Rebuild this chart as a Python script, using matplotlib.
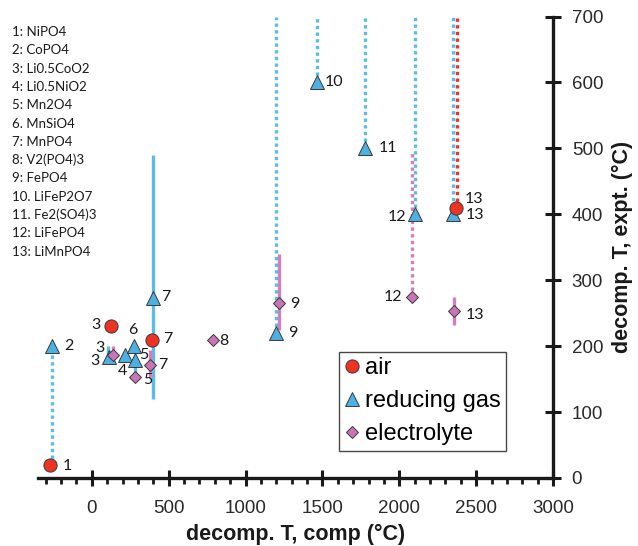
import matplotlib
matplotlib.use('Agg')
import matplotlib.pyplot as plt
from matplotlib.ticker import MultipleLocator
from matplotlib.lines import Line2D

# ---------------- data ----------------
compounds = ["1: NiPO4", "2: CoPO4", "3: Li0.5CoO2", "4: Li0.5NiO2", "5: Mn2O4",
             "6. MnSiO4", "7: MnPO4", "8: V2(PO4)3", "9: FePO4", "10. LiFeP2O7",
             "11. Fe2(SO4)3", "12: LiFePO4", "13: LiMnPO4"]

air_x = [-270, 122, 390, 2372]
air_y = [20, 230, 210, 410]
air_ids = ["1", "3", "7", "13"]

gas_x = [-262, 112, 215, 282, 272, 398, 1200, 1466, 1780, 2102, 2348]
gas_y = [200, 183, 187, 179, 200, 273, 220, 600, 500, 400, 400]
gas_ids = ["2", "3", "4", "5", "6", "7", "9", "10", "11", "12", "13"]

elec_x = [135, 284, 378, 790, 1220, 2081, 2357]
elec_y = [186, 153, 172, 210, 265, 275, 253]
elec_ids = ["3", "5", "7", "8", "9", "12", "13"]

# vertical ranges: x, low, high, kind ("range" = solid, "bound" = dotted)
air_bar_x = [2378]
air_bar_lo = [410]
air_bar_hi = [700]
air_bar_kind = ["bound"]

gas_bar_x = [-262, 108, 282, 398, 1200, 1466, 1780, 2102, 2348]
gas_bar_lo = [20, 175, 155, 120, 220, 600, 500, 400, 400]
gas_bar_hi = [200, 200, 179, 490, 700, 700, 700, 700, 700]
gas_bar_kind = ["bound", "range", "range", "range", "bound", "bound", "bound", "bound", "bound"]

elec_bar_x = [135, 378, 1220, 2081, 2357]
elec_bar_lo = [175, 153, 225, 275, 232]
elec_bar_hi = [200, 194, 340, 495, 275]
elec_bar_kind = ["range", "range", "range", "bound", "range"]

x_ticks = [0, 500, 1000, 1500, 2000, 2500, 3000]
y_ticks = [0, 100, 200, 300, 400, 500, 600, 700]

# ---------------- style ----------------
RED = "#EE3224"
BLUE = "#4DB0E2"
BLUE_LINE = "#5BBCEA"
PINK = "#C874B6"
PINK_LINE = "#D27FBE"
EDGE = "#3a3a3a"
SANS = "Liberation Sans"
NUMF = "Lato"

fig = plt.figure(figsize=(6.38, 5.46), dpi=100)
ax = fig.add_axes([38/638, 68/546, (553-38)/638, (478-16.5)/546])

def bars(xs, lo, hi, kind, color, z):
    for x, a, b, k in zip(xs, lo, hi, kind):
        if k == "bound":
            ax.plot([x, x], [a, b], color=color, lw=2.4, dashes=(1.0, 1.0),
                    dash_capstyle='butt', zorder=z)
        else:
            ax.plot([x, x], [a, b], color=color, lw=2.4, zorder=z,
                    solid_capstyle='butt')

bars(gas_bar_x, gas_bar_lo, gas_bar_hi, gas_bar_kind, BLUE_LINE, 1)
bars(elec_bar_x, elec_bar_lo, elec_bar_hi, elec_bar_kind, PINK_LINE, 1.1)
bars(air_bar_x, air_bar_lo, air_bar_hi, air_bar_kind, RED, 1.2)

ax.plot(gas_x, gas_y, ls='none', marker='^', ms=9.5, mfc=BLUE, mec=EDGE, mew=0.7, zorder=3)
ax.plot(elec_x, elec_y, ls='none', marker='D', ms=6.2, mfc=PINK, mec=EDGE, mew=0.7, zorder=3.5)
ax.plot(air_x, air_y, ls='none', marker='o', ms=9.5, mfc=RED, mec=EDGE, mew=0.7, zorder=4)

# label offsets in pixels (dx, dy); dy positive = up
air_off = [(12, -1, 'left'), (-10, 1, 'right'), (11, 1, 'left'), (8, 9, 'left')]
gas_off = [(13, 0, 'left'), (-10, -4, 'right'), (-2, -16, 'center'), (4, 5, 'left'),
           (-1, 16, 'center'), (8, 1, 'left'), (12, 0, 'left'), (8, 0, 'left'),
           (13, 0, 'left'), (-9, -3, 'right'), (13, -1, 'left')]
elec_off = [(-8, 7, 'right'), (8, -3, 'left'), (8, 0, 'left'), (6, -1, 'left'),
            (11, -1, 'left'), (-9, 0, 'right'), (12, -4, 'left')]

def labels(xs, ys, ids, offs):
    for x, y, t, (dx, dy, ha) in zip(xs, ys, ids, offs):
        ax.annotate(t, (x, y), xytext=(dx, dy), textcoords='offset pixels',
                    ha=ha, va='center', fontsize=11.5, family=NUMF,
                    color='#1a1a1a', zorder=5)

labels(air_x, air_y, air_ids, air_off)
labels(gas_x, gas_y, gas_ids, gas_off)
labels(elec_x, elec_y, elec_ids, elec_off)

ax.set_xlim(-350, 3000)
ax.set_ylim(0, 700)

for s in ['left', 'top']:
    ax.spines[s].set_visible(False)
for s in ['bottom', 'right']:
    ax.spines[s].set_linewidth(2.4)
    ax.spines[s].set_color('#1a1a1a')

ax.set_xticks(x_ticks)
ax.xaxis.set_minor_locator(MultipleLocator(100))
ax.set_yticks(y_ticks)
ax.yaxis.tick_right()
ax.yaxis.set_label_position('right')
ax.tick_params(axis='x', which='major', direction='inout', length=11, width=2.2,
               pad=10, labelsize=13.5, color='#1a1a1a', labelcolor='#2a2a2a')
ax.tick_params(axis='x', which='minor', direction='out', length=4, width=2.0,
               color='#1a1a1a')
ax.tick_params(axis='y', which='major', direction='inout', length=11, width=2.2,
               pad=8, labelsize=13.5, color='#1a1a1a', labelcolor='#2a2a2a',
               right=True, left=False)
for lab in ax.get_xticklabels() + ax.get_yticklabels():
    lab.set_family(SANS)

ax.set_xlabel("decomp. T, comp (°C)", fontsize=15.5, fontweight='bold',
              family=SANS, labelpad=5, color='#1a1a1a')
ax.set_ylabel("decomp. T, expt. (°C)", fontsize=15.5, fontweight='bold',
              family=SANS, labelpad=6, color='#1a1a1a')

handles = [
    Line2D([], [], ls='none', marker='o', ms=9.5, mfc=RED, mec=EDGE, mew=0.7),
    Line2D([], [], ls='none', marker='^', ms=9.5, mfc=BLUE, mec=EDGE, mew=0.7),
    Line2D([], [], ls='none', marker='D', ms=6.2, mfc=PINK, mec=EDGE, mew=0.7),
]
leg = ax.legend(handles, ["air", "reducing gas", "electrolyte"],
                loc='upper left', bbox_to_anchor=(0.584, 0.274),
                prop={'family': SANS, 'size': 17}, frameon=True, fancybox=False,
                edgecolor='#1a1a1a', handlelength=0.6, handletextpad=0.25,
                labelspacing=0.46, borderpad=0.25, borderaxespad=0)
leg.get_frame().set_linewidth(1.0)

for i, t in enumerate(compounds):
    fig.text(12/638, 1 - (32 + i*18.3)/546, t, ha='left', va='center',
             fontsize=9.5, family=NUMF, color='#1a1a1a')

fig.savefig("out.png", dpi=100)
